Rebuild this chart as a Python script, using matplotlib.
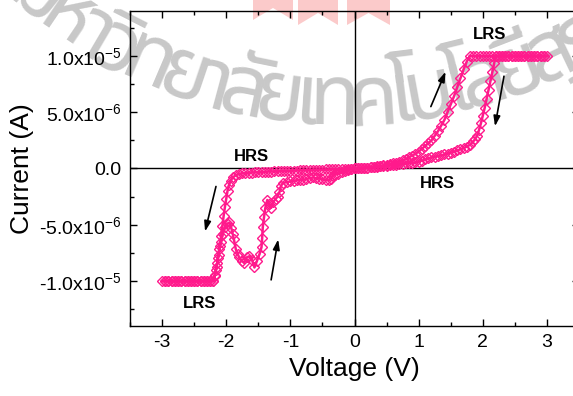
import numpy as np
import matplotlib
matplotlib.use("Agg")
import matplotlib.pyplot as plt
from matplotlib import font_manager
from matplotlib.patches import Polygon
from matplotlib.ticker import FixedLocator, FixedFormatter, MultipleLocator

plt.rcParams['font.family'] = ['Liberation Sans', 'DejaVu Sans']
plt.rcParams['mathtext.default'] = 'regular'
plt.rcParams['axes.unicode_minus'] = False

PINK = '#ff1a8c'
W, H = 573, 396

# set sweep 0 -> +3 V (current in uA)
v_set_pos = [0.00, 0.05, 0.10, 0.15, 0.20, 0.25, 0.30, 0.35, 0.40, 0.45, 0.50, 0.55,
             0.60, 0.65, 0.70, 0.75, 0.80, 0.85, 0.90, 0.95, 1.00, 1.05, 1.10, 1.15,
             1.20, 1.25, 1.30, 1.35, 1.40, 1.45, 1.50, 1.55, 1.60, 1.65, 1.70, 1.75,
             1.80, 1.85, 1.90, 1.95, 2.00, 2.05, 2.10, 2.15, 2.20, 2.25, 2.30, 2.35,
             2.40, 2.45, 2.50, 2.55, 2.60, 2.65, 2.70, 2.75, 2.80, 2.85, 2.90, 2.95, 3.00]
i_set_pos = [0.0, 0.01, 0.03, 0.05, 0.08, 0.11, 0.15, 0.18, 0.22, 0.27, 0.32, 0.38,
             0.45, 0.53, 0.62, 0.72, 0.85, 1.0, 1.15, 1.3, 1.5, 1.75, 2.0, 2.25,
             2.5, 2.9, 3.3, 3.8, 4.3, 5.0, 5.7, 6.4, 7.2, 8.0, 8.8, 9.5,
             10.0, 10.0, 10.0, 10.0, 10.0, 10.0, 10.0, 10.0, 10.0, 10.0, 10.0, 10.0,
             10.0, 10.0, 10.0, 10.0, 10.0, 10.0, 10.0, 10.0, 10.0, 10.0, 10.0, 10.0, 10.0]

# return sweep +3 -> 0 V
v_reset_pos = [2.95, 2.90, 2.85, 2.80, 2.75, 2.70, 2.65, 2.60, 2.55, 2.50, 2.45, 2.40,
               2.35, 2.30, 2.25, 2.20, 2.18, 2.15, 2.12, 2.09, 2.06, 2.03, 2.00, 1.97,
               1.94, 1.91, 1.88, 1.85, 1.80, 1.75, 1.70, 1.65, 1.60, 1.55, 1.50, 1.45,
               1.40, 1.35, 1.30, 1.25, 1.20, 1.15, 1.10, 1.05, 1.00, 0.95, 0.90, 0.85,
               0.80, 0.75, 0.70, 0.65, 0.60, 0.55, 0.50, 0.45, 0.40, 0.35, 0.30, 0.25,
               0.20, 0.15, 0.10, 0.05, 0.00]
i_reset_pos = [10.0, 10.0, 10.0, 10.0, 10.0, 10.0, 10.0, 10.0, 10.0, 10.0, 10.0, 10.0,
               10.0, 10.0, 10.0, 10.0, 9.4, 8.6, 7.8, 7.0, 6.2, 5.4, 4.7, 4.0,
               3.4, 2.9, 2.6, 2.4, 2.1, 1.95, 1.8, 1.7, 1.6, 1.5, 1.4, 1.32,
               1.25, 1.17, 1.1, 1.05, 1.0, 0.9, 0.8, 0.7, 0.6, 0.55, 0.5, 0.47,
               0.45, 0.41, 0.38, 0.34, 0.3, 0.27, 0.25, 0.21, 0.18, 0.15, 0.12, 0.1,
               0.08, 0.06, 0.04, 0.02, 0.0]

# sweep 0 -> -3 V
v_set_neg = [-0.05, -0.10, -0.15, -0.20, -0.25, -0.30, -0.35, -0.40, -0.45, -0.50,
             -0.55, -0.60, -0.65, -0.70, -0.75, -0.80, -0.85, -0.90, -0.95, -1.00,
             -1.05, -1.10, -1.15, -1.20, -1.25, -1.30, -1.35, -1.40, -1.45, -1.50,
             -1.55, -1.60, -1.65, -1.70, -1.75, -1.80, -1.85, -1.90, -1.93, -1.96,
             -1.98, -2.00, -2.02, -2.04, -2.06, -2.08, -2.10, -2.12, -2.14, -2.16,
             -2.18, -2.20, -2.25, -2.30, -2.35, -2.40, -2.45, -2.50, -2.55, -2.60,
             -2.65, -2.70, -2.75, -2.80, -2.85, -2.90, -2.95, -3.00]
i_set_neg = [-0.01, -0.02, -0.03, -0.04, -0.05, -0.06, -0.07, -0.08, -0.09, -0.10,
             -0.11, -0.12, -0.13, -0.14, -0.15, -0.16, -0.17, -0.18, -0.19, -0.20,
             -0.21, -0.22, -0.23, -0.24, -0.25, -0.27, -0.28, -0.30, -0.31, -0.33,
             -0.35, -0.36, -0.38, -0.40, -0.44, -0.48, -0.6, -0.8, -1.1, -1.5,
             -2.0, -2.7, -3.4, -4.2, -5.1, -6.0, -6.9, -7.7, -8.4, -9.0,
             -9.5, -10.0, -10.0, -10.0, -10.0, -10.0, -10.0, -10.0, -10.0, -10.0,
             -10.0, -10.0, -10.0, -10.0, -10.0, -10.0, -10.0, -10.0]

# return sweep -3 -> 0 V
v_reset_neg = [-2.95, -2.90, -2.85, -2.80, -2.75, -2.70, -2.65, -2.60, -2.55, -2.50,
               -2.45, -2.40, -2.35, -2.30, -2.25, -2.20, -2.18, -2.15, -2.13, -2.11,
               -2.08, -2.05, -2.02, -1.98, -1.95, -1.92, -1.90, -1.88, -1.85, -1.82,
               -1.80, -1.76, -1.72, -1.68, -1.64, -1.60, -1.56, -1.52, -1.48, -1.45,
               -1.44, -1.43, -1.41, -1.39, -1.36, -1.33, -1.30, -1.27, -1.23, -1.20,
               -1.17, -1.15, -1.12, -1.05, -1.00, -0.95, -0.90, -0.85, -0.80, -0.75,
               -0.70, -0.65, -0.60, -0.55, -0.50, -0.45, -0.40, -0.37, -0.34, -0.30,
               -0.25, -0.20, -0.15, -0.10, -0.05, 0.00]
i_reset_neg = [-10.0, -10.0, -10.0, -10.0, -10.0, -10.0, -10.0, -10.0, -10.0, -10.0,
               -10.0, -10.0, -10.0, -10.0, -10.0, -10.0, -9.6, -8.8, -8.0, -7.2,
               -6.5, -5.8, -5.2, -4.9, -4.8, -5.3, -5.8, -6.3, -7.2, -7.6,
               -7.9, -8.2, -8.4, -7.9, -7.8, -8.1, -8.8, -8.2, -7.6, -7.0,
               -6.2, -5.2, -4.3, -3.5, -2.8, -3.2, -3.5, -3.0, -2.7, -2.5,
               -2.1, -1.6, -1.3, -1.2, -1.15, -1.1, -1.05, -1.0, -1.0, -0.95,
               -0.85, -0.8, -0.85, -0.9, -0.95, -1.0, -1.05, -0.9, -0.7, -0.55,
               -0.45, -0.35, -0.25, -0.15, -0.07, 0.0]

y_ticks = [-1.0e-5, -5.0e-6, 0.0, 5.0e-6, 1.0e-5]
y_labels = ['-1.0x10$^{-5}$', '-5.0x10$^{-6}$', '0.0', '5.0x10$^{-6}$', '1.0x10$^{-5}$']
x_ticks = [-3, -2, -1, 0, 1, 2, 3]

# watermark text, split in glyph clusters
wm_clusters = ['ม', 'ห', 'า', 'วิ', 'ท', 'ย', 'า', 'ลั', 'ย', 'เ', 'ท', 'ค', 'โ', 'น',
               'โ', 'ล', 'ยี', 'สุ', 'ร', 'น', 'า', 'รี']

volt = np.array(v_set_pos + v_reset_pos + v_set_neg + v_reset_neg)
curr = np.array(i_set_pos + i_reset_pos + i_set_neg + i_reset_neg) * 1e-6

fig = plt.figure(figsize=(5.73, 3.96), dpi=100)
ax = fig.add_axes([0.2269, 0.1768, 0.7836, 0.7955])
ax.set_facecolor('none')


def px(x, y):
    # pixel (from top-left) -> figure fraction
    return x / W, 1 - y / H


# ribbons of the watermark logo
for xs, yb, yn in [((253, 293), 20, 8), ((298, 338), 25, 13), ((347, 390), 25, 13)]:
    pts = [px(xs[0], -5), px(xs[1], -5), px(xs[1], yb), px((xs[0] + xs[1]) / 2, yn),
           px(xs[0], yb)]
    fig.patches.append(Polygon(pts, closed=True, transform=fig.transFigure,
                               facecolor='#fbcaca', edgecolor='none', zorder=-2))

# watermark text along an arc
thai_font = None
names = {f.name for f in font_manager.fontManager.ttflist}
for cand in ['Noto Sans Thai', 'Kanit', 'Sarabun', 'Garuda', 'Loma', 'Waree', 'Norasi', 'Kinnari']:
    if cand in names:
        thai_font = cand
        break
if thai_font is None:
    for n in sorted(names):
        if 'Thai' in n:
            thai_font = n
            break

if thai_font:
    renderer = fig.canvas.get_renderer()
    widths = []
    for c in wm_clusters:
        t = fig.text(0, 0, c, family=thai_font, fontsize=10, fontweight='bold')
        widths.append(t.get_window_extent(renderer).width)
        t.remove()
    centers = np.cumsum(widths) - np.array(widths) / 2
    fs = 10 * 284 / (centers[10] - centers[1])
    centers = centers * fs / 10
    fs_draw = fs * 1.35
    cx, cy, r_mid = 341, -386, 488
    em = fs_draw * 100 / 72
    r_base = r_mid + 0.27 * em
    th10 = np.arcsin(-6 / r_mid)
    for k, c in enumerate(wm_clusters):
        th = th10 + (centers[k] - centers[10]) / r_mid
        x = cx + r_base * np.sin(th)
        y = cy + r_base * np.cos(th)
        fig.text(*px(x, y), c, family=thai_font, fontsize=fs_draw, fontweight='bold',
                 color='#c8c8c8', rotation=np.degrees(th), rotation_mode='anchor',
                 ha='center', va='baseline', zorder=-1)

ax.axhline(0, color='black', lw=1, zorder=1)
ax.axvline(0, color='black', lw=1, zorder=1)

ax.plot(volt, curr, color=PINK, lw=1.8, marker='D', ms=5, mfc='none', mec=PINK,
        mew=1, zorder=3)

arrow = dict(arrowstyle='-|>,head_length=0.6,head_width=0.2', color='black', lw=1.2,
             shrinkA=0, shrinkB=0)
ax.annotate('', xy=(1.42, 8.6e-6), xytext=(1.19, 5.5e-6), arrowprops=arrow)
ax.annotate('', xy=(2.19, 3.75e-6), xytext=(2.33, 8.2e-6), arrowprops=arrow)
ax.annotate('', xy=(-2.33, -5.6e-6), xytext=(-2.16, -1.6e-6), arrowprops=arrow)
ax.annotate('', xy=(-1.19, -6.3e-6), xytext=(-1.3, -9.9e-6), arrowprops=arrow)

ax.text(-1.6, 1.07e-6, 'HRS', fontsize=12, fontweight='bold', ha='center', va='center')
ax.text(-2.42, -1.2e-5, 'LRS', fontsize=12, fontweight='bold', ha='center', va='center')
ax.text(2.1, 1.19e-5, 'LRS', fontsize=12, fontweight='bold', ha='center', va='center')
ax.text(1.3, -1.34e-6, 'HRS', fontsize=12, fontweight='bold', ha='center', va='center')

ax.set_xlim(-3.5, 3.5)
ax.set_ylim(-1.4e-5, 1.4e-5)
ax.xaxis.set_major_locator(FixedLocator(x_ticks))
ax.xaxis.set_minor_locator(MultipleLocator(0.5))
ax.yaxis.set_major_locator(FixedLocator(y_ticks))
ax.yaxis.set_major_formatter(FixedFormatter(y_labels))
ax.yaxis.set_minor_locator(MultipleLocator(2.5e-6))
ax.tick_params(which='both', direction='in', top=True, right=True, labelsize=14, width=1)
ax.tick_params(which='major', length=5, pad=6)
ax.tick_params(which='minor', length=3)
for s in ax.spines.values():
    s.set_linewidth(1)

ax.set_xlabel('Voltage (V)', fontsize=19, labelpad=4)
ax.set_ylabel('Current (A)', fontsize=19, labelpad=4)

fig.savefig('out.png', dpi=100)
